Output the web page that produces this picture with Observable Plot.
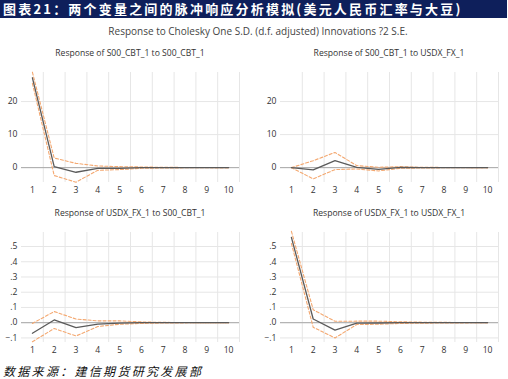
<!DOCTYPE html>
<html>
<head>
<meta charset="utf-8">
<script src="https://cdn.jsdelivr.net/npm/d3@7"></script>
<script src="https://cdn.jsdelivr.net/npm/@observablehq/plot@0.6"></script>
<style>
  html, body { margin: 0; padding: 0; background: #fff; }
  #root { position: relative; width: 508px; height: 379px; overflow: hidden; background: #fff; font-family: "Open Sans", "Noto Sans", sans-serif; }
  .bar { position: absolute; left: 0; top: 0; width: 507px; height: 18px; background: #0e1f5b; color: #fff;
         font-family: "Noto Sans CJK SC", sans-serif; font-weight: bold; font-size: 13px; line-height: 18px;
         letter-spacing: 2.2px; padding-left: 3px; box-sizing: border-box; white-space: nowrap; }
  .main { position: absolute; left: 0; width: 508px; top: 24px; text-align: center; font-size: 10px; color: #444; padding-left: 8px; box-sizing: border-box; }
  .ptitle { position: absolute; width: 254px; text-align: center; font-size: 8.6px; color: #333; }
  .panel { position: absolute; }
  .foot { position: absolute; left: 3px; top: 362px; font-family: "Noto Sans CJK SC", sans-serif; font-style: italic;
          font-weight: normal; font-size: 12px; letter-spacing: 2.3px; color: #111; white-space: nowrap; }
</style>
</head>
<body>
<div id="root">
  <div class="bar">图表21：两个变量之间的脉冲响应分析模拟(美元人民币汇率与大豆)</div>
  <div class="main">Response to Cholesky One S.D. (d.f. adjusted) Innovations ?2 S.E.</div>
  <div class="foot">数据来源：建信期货研究发展部</div>
</div>
<script>
const periods = [1, 2, 3, 4, 5, 6, 7, 8, 9, 10];

const titles = [
  "Response of S00_CBT_1 to S00_CBT_1",
  "Response of S00_CBT_1 to USDX_FX_1",
  "Response of USDX_FX_1 to S00_CBT_1",
  "Response of USDX_FX_1 to USDX_FX_1"
];

// Panel 1: S00_CBT_1 -> S00_CBT_1
const resp1  = [27.2, 0.3, -1.4, -0.2, -0.2, 0.0, 0.0, 0.0, 0.0, 0.0];
const upper1 = [28.9, 2.9, 1.3, 0.5, 0.3, 0.2, 0.1, 0.05, 0.02, 0.01];
const lower1 = [25.5, -2.4, -4.4, -0.8, -0.6, -0.2, -0.1, -0.05, -0.02, -0.01];

// Panel 2: S00_CBT_1 -> USDX_FX_1
const resp2  = [0.0, -0.7, 2.1, 0.1, -0.5, 0.05, 0.0, 0.0, 0.0, 0.0];
const upper2 = [0.0, 2.1, 4.6, 0.6, 0.1, 0.3, 0.1, 0.05, 0.02, 0.01];
const lower2 = [0.0, -3.4, -0.6, -0.4, -1.0, -0.2, -0.1, -0.05, -0.02, -0.01];

// Panel 3: USDX_FX_1 -> S00_CBT_1
const resp3  = [-0.069, 0.018, -0.033, -0.010, -0.003, 0.0, 0.0, 0.0, 0.0, 0.0];
const upper3 = [-0.005, 0.073, 0.024, 0.012, 0.012, 0.005, 0.002, 0.001, 0.0, 0.0];
const lower3 = [-0.125, -0.038, -0.087, -0.025, -0.010, -0.005, -0.002, -0.001, 0.0, 0.0];

// Panel 4: USDX_FX_1 -> USDX_FX_1
const resp4  = [0.56, 0.024, -0.049, -0.003, -0.002, 0.001, 0.0, 0.0, 0.0, 0.0];
const upper4 = [0.60, 0.085, 0.009, 0.010, 0.010, 0.006, 0.003, 0.002, 0.001, 0.0];
const lower4 = [0.52, -0.030, -0.100, -0.012, -0.010, -0.005, -0.003, -0.002, -0.001, 0.0];

const topTicks = [0, 10, 20];
const bottomTicks = [-0.1, 0, 0.1, 0.2, 0.3, 0.4, 0.5];
const fmtTop = d => String(d);
const fmtBottom = d => d3.format(".1f")(d).replace("0.", ".");

const root = document.getElementById("root");

function panel(left, top, resp, up, lo, domain, ticks, fmt, title, mL, mR) {
  const rows = periods.map((p, i) => ({p, r: resp[i], u: up[i], l: lo[i]}));
  const grid = periods.map(p => p + 0.5);
  const chart = Plot.plot({
    width: 254, height: 140,
    marginTop: 12, marginBottom: 18, marginLeft: mL, marginRight: mR,
    style: {fontFamily: "'Open Sans', sans-serif", fontSize: "8.6px", color: "#333", background: "transparent"},
    x: {domain: [0.5, 10.5], ticks: periods, tickFormat: d => String(d), tickSize: 0, tickPadding: 4, label: null},
    y: {domain, ticks, tickFormat: fmt, tickSize: 0, tickPadding: 4, label: null},
    marks: [
      Plot.gridY(ticks, {stroke: "#e6e6e6", strokeOpacity: 1, strokeWidth: 1}),
      Plot.ruleX(grid, {stroke: "#e6e6e6", strokeWidth: 1}),
      Plot.ruleY([0], {stroke: "#a8a8a8", strokeWidth: 1}),
      Plot.line(rows, {x: "p", y: "u", stroke: "#f4a870", strokeWidth: 1.1, strokeDasharray: "3,2"}),
      Plot.line(rows, {x: "p", y: "l", stroke: "#f4a870", strokeWidth: 1.1, strokeDasharray: "3,2"}),
      Plot.line(rows, {x: "p", y: "r", stroke: "#5a5a5a", strokeWidth: 1.3})
    ]
  });
  const wrap = document.createElement("div");
  wrap.className = "panel";
  wrap.style.left = left + "px";
  wrap.style.top = top + "px";
  wrap.appendChild(chart);
  root.appendChild(wrap);
  const t = document.createElement("div");
  t.className = "ptitle";
  t.style.left = (left + (mL - mR) / 2) + "px";
  t.style.top = (top - 13) + "px";
  t.textContent = title;
  root.appendChild(t);
}

panel(0, 60, resp1, upper1, lower1, [-4.5, 28.8], topTicks, fmtTop, titles[0], 21, 15);
panel(254, 60, resp2, upper2, lower2, [-4.5, 28.8], topTicks, fmtTop, titles[1], 26, 10);
panel(0, 220, resp3, upper3, lower3, [-0.13, 0.592], bottomTicks, fmtBottom, titles[2], 21, 15);
panel(254, 220, resp4, upper4, lower4, [-0.13, 0.592], bottomTicks, fmtBottom, titles[3], 26, 10);
</script>
</body>
</html>
